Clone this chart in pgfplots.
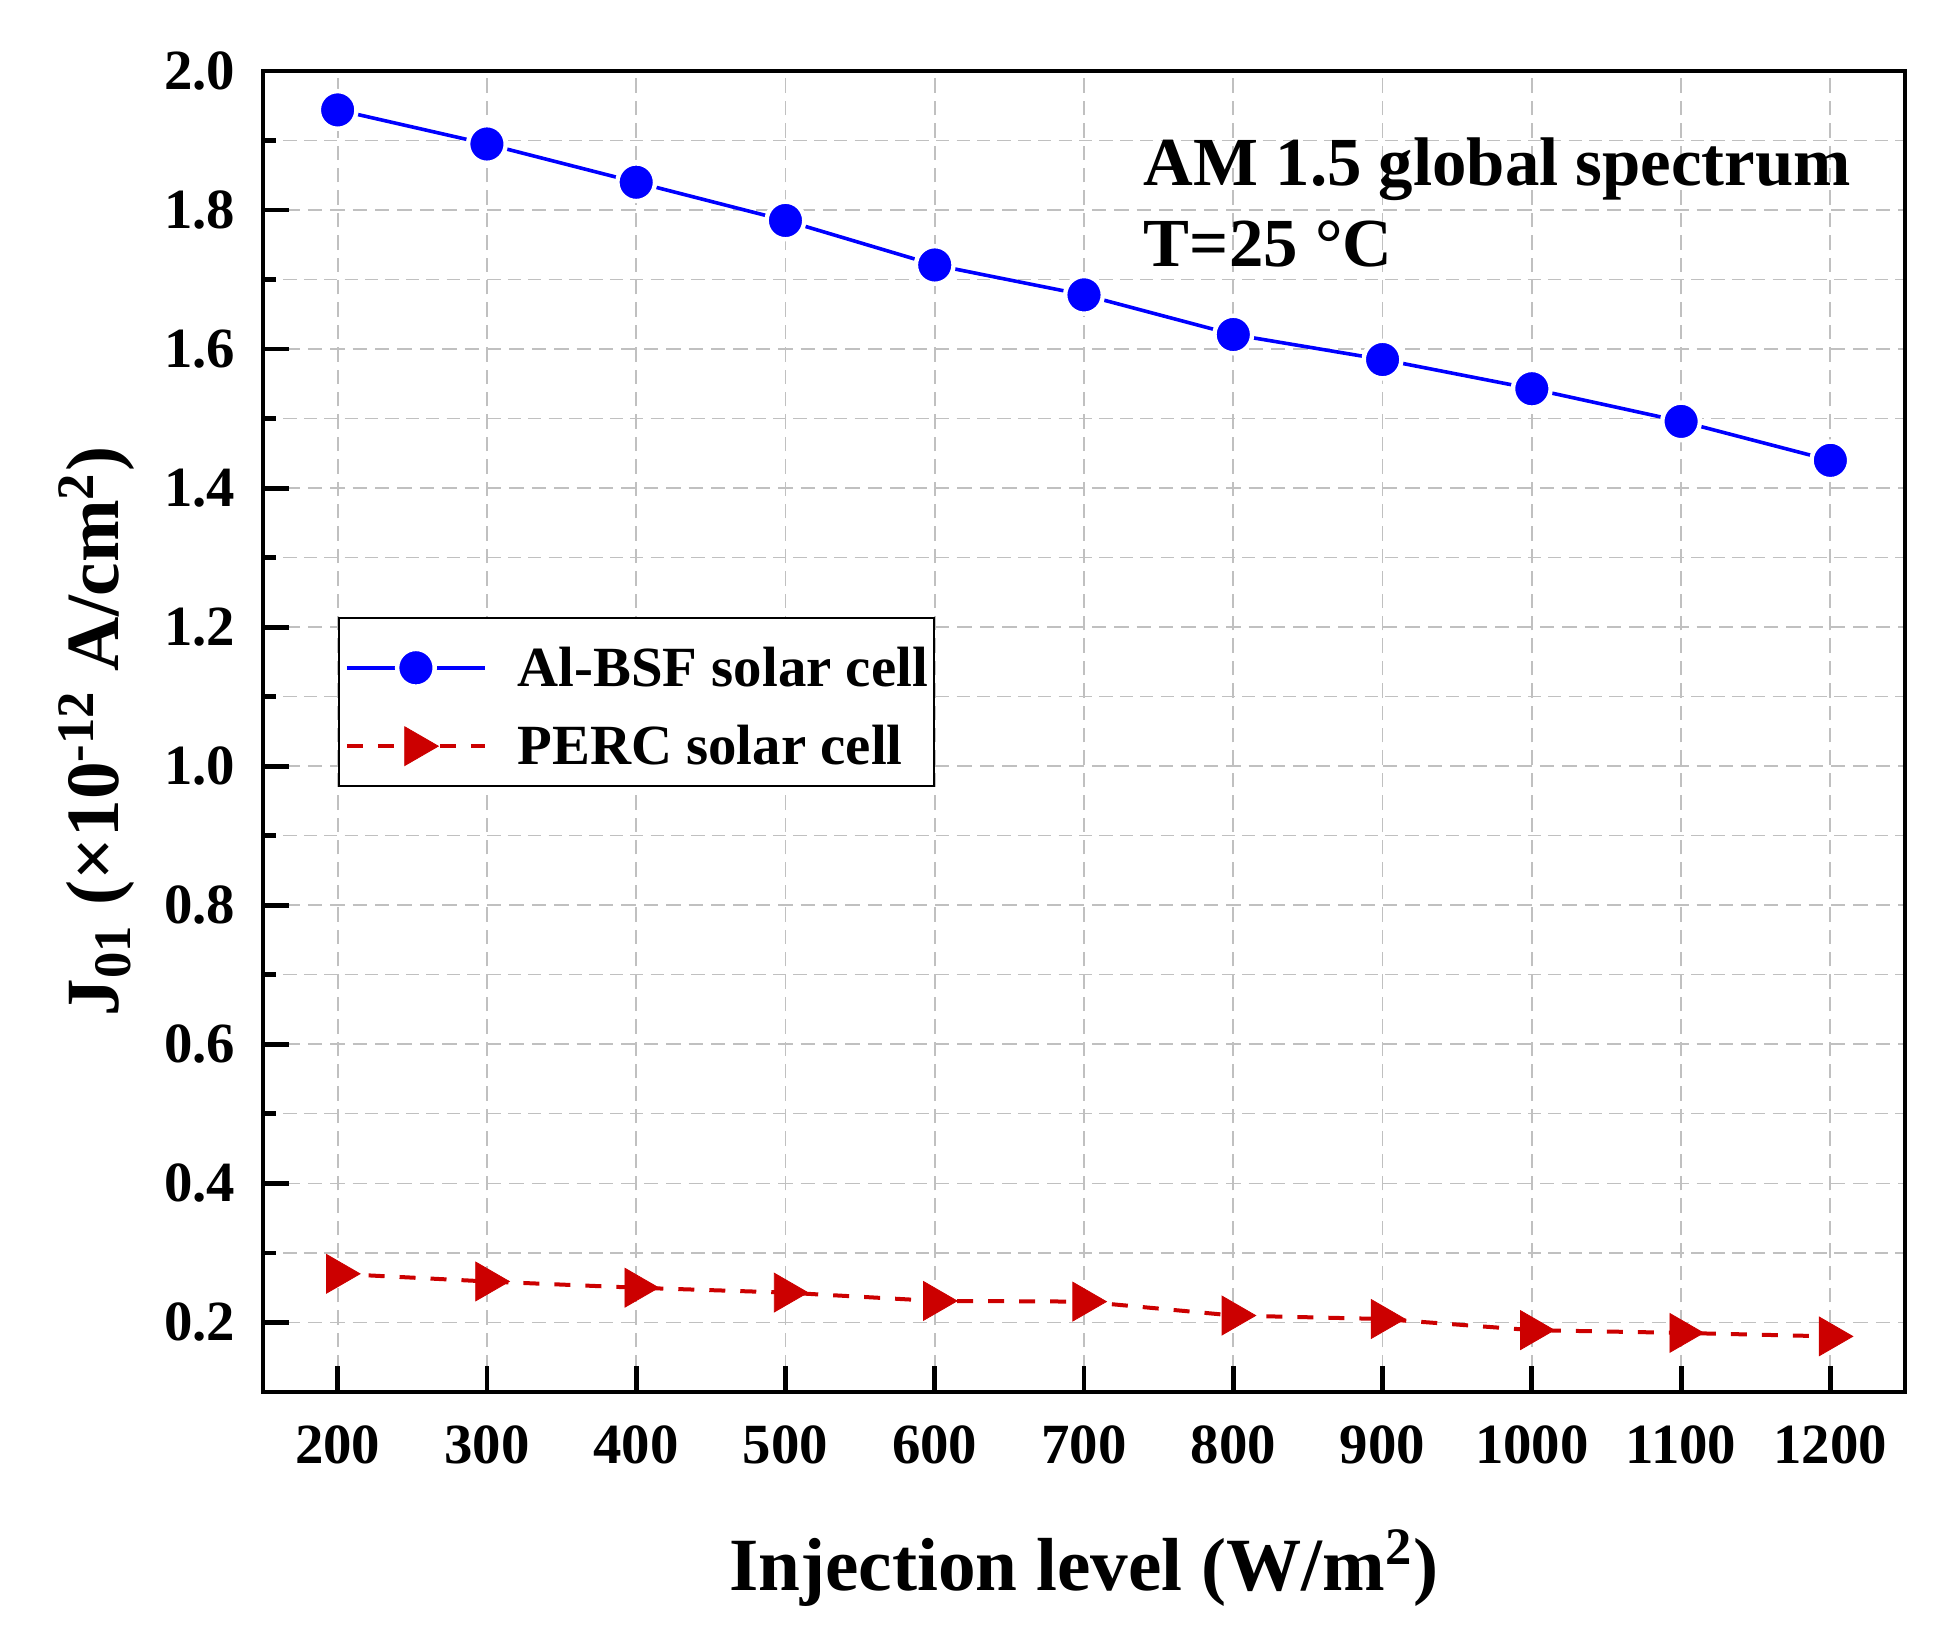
\documentclass[border=0pt]{standalone}
\usepackage{fontspec}
\setmainfont{Liberation Serif}
\usepackage{pgfplots}
\usepackage{pgfplotstable}
\pgfplotsset{compat=1.18}
\definecolor{bsf}{RGB}{0,0,255}
\definecolor{perc}{RGB}{204,0,0}
\definecolor{gridc}{RGB}{192,192,192}

\pgfplotstableread{
x y
200 1.944
300 1.895
400 1.840
500 1.785
600 1.721
700 1.678
800 1.621
900 1.585
1000 1.543
1100 1.496
1200 1.440
}\bsfdata

\pgfplotstableread{
x y
200 0.270
300 0.259
400 0.250
500 0.243
600 0.231
700 0.230
800 0.210
900 0.205
1000 0.189
1100 0.185
1200 0.180
}\percdata

\begin{document}
\begin{tikzpicture}
\useasboundingbox (-65.75pt,-61pt) rectangle (420.5pt,348pt);
\begin{axis}[
  at={(0pt,0pt)}, anchor=south west,
  scale only axis, width=410.5pt, height=330.25pt,
  xmin=150, xmax=1250, ymin=0.1, ymax=2.0,
  xtick={200,300,400,500,600,700,800,900,1000,1100,1200},
  ytick={0.2,0.4,0.6,0.8,1.0,1.2,1.4,1.6,1.8,2.0},
  minor ytick={0.3,0.5,0.7,0.9,1.1,1.3,1.5,1.7,1.9},
  tick align=inside, tick pos=left,
  major tick length=6.4pt, minor tick length=3.2pt,
  every tick/.style={black, line width=1.2pt},
  axis line style={line width=1.1pt},
  grid=both,
  major grid style={gridc, line width=0.45pt, dash pattern=on 3.6pt off 2pt},
  minor grid style={gridc, line width=0.3pt, dash pattern=on 3.3pt off 1.8pt},
  /pgf/number format/assume math mode=true,
  ticklabel style={font=\fontsize{14.2}{17}\selectfont\bfseries},
  xticklabel style={/pgf/number format/1000 sep={}, yshift=-5pt},
  yticklabel style={/pgf/number format/.cd, fixed, fixed zerofill, precision=1, /tikz/xshift=-3.4pt},
  xlabel={Injection level (W/m\textsuperscript{2})},
  ylabel={J\textsubscript{01} (×10\textsuperscript{-12} A/cm\textsuperscript{2})},
  xlabel style={font=\fontsize{18.8}{22}\selectfont\bfseries, at={(axis description cs:0.5,0)}, anchor=base, yshift=-49.5pt},
  ylabel style={font=\fontsize{18.8}{22}\selectfont\bfseries, at={(axis description cs:-0.1011,0.5)}, anchor=center},
  legend style={at={(0.0455,0.587)}, anchor=north west, draw=black, line width=0.6pt,
    font=\fontsize{14.2}{17}\selectfont\bfseries, inner xsep=1.5pt, inner ysep=1.5pt,
    cells={anchor=base west},
    nodes={text height=15.7pt, text depth=3.8pt, inner ysep=0pt, inner xsep=0pt},
    row sep=0.1pt, column sep=7.7pt},
  legend image code/.code={\draw[mark repeat=2,mark phase=2] plot coordinates {(0pt,4.7pt) (17.25pt,4.7pt) (34.5pt,4.7pt)};},
]
\addplot[color=bsf, line width=0.9pt, mark=*, mark size=4.7pt,
  mark options={solid, fill=bsf, draw=white, line width=1.1pt}] table[x=x,y=y] {\bsfdata};
\addlegendentry{Al-BSF solar cell}
\addplot[color=perc, line width=1pt, dash pattern=on 4pt off 3.75pt, mark=triangle*, mark size=5.6pt,
  mark options={solid, rotate=-90, fill=perc, line width=0.2pt}] table[x=x,y=y] {\percdata};
\addlegendentry{PERC solar cell}
\node[anchor=base west, inner sep=0pt, font=\fontsize{17.2}{20}\selectfont\bfseries] at (rel axis cs:0.536,0.9137) {AM 1.5 global spectrum};
\node[anchor=base west, inner sep=0pt, font=\fontsize{17.2}{20}\selectfont\bfseries] at (rel axis cs:0.536,0.852) {T=25 °C};
\end{axis}
\end{tikzpicture}
\end{document}
